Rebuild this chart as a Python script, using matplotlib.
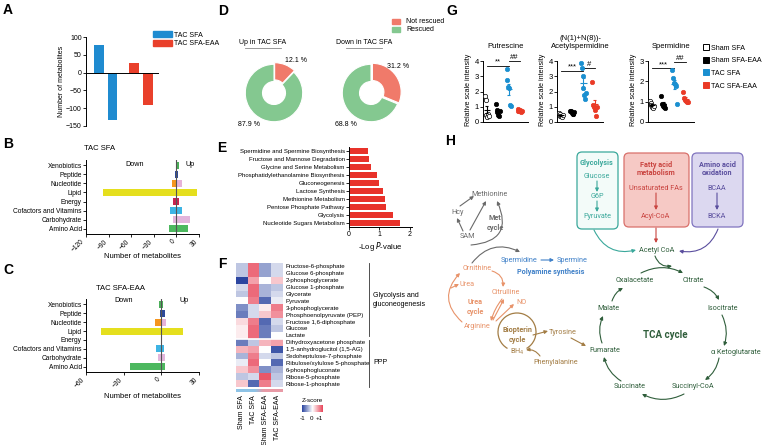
import numpy as np
import matplotlib.pyplot as plt
from matplotlib.patches import FancyBboxPatch, Rectangle, Arc
from matplotlib.lines import Line2D
from matplotlib.colors import LinearSegmentedColormap

plt.rcParams['font.family'] = ['Liberation Sans', 'DejaVu Sans']

# ---------------- data ----------------
a_groups = ['TAC SFA', 'TAC SFA-EAA']
a_up = [78, 28]
a_down = [-132, -90]

classes = ['Xenobiotics', 'Peptide', 'Nucleotide', 'Lipid', 'Energy',
           'Cofactors and Vitamins', 'Carbohydrate', 'Amino Acid']
b_down = [-1, -2, -6, -97, -4, -8, -5, -10]
b_up = [3, 2, 7, 27, 4, 7, 18, 16]
c_down = [-1.5, -1, -5, -48, 0, -4, -3, -25]
c_up = [1, 3, 4, 17, 0, 2, 3, 3]

d_titles = ['Up in TAC SFA', 'Down in TAC SFA']
d_not_rescued = [12.1, 31.2]
d_rescued = [87.9, 68.8]

e_pathways = ['Spermidine and Spermine Biosynthesis', 'Fructose and Mannose Degradation',
              'Glycine and Serine Metabolism', 'Phosphatidylethanolamine Biosynthesis',
              'Gluconeogenesis', 'Lactose Synthesis', 'Methionine Metabolism',
              'Pentose Phosphate Pathway', 'Glycolysis', 'Nucleotide Sugars Metabolism']
e_logp = [0.62, 0.64, 0.72, 0.92, 0.98, 1.1, 1.17, 1.22, 1.43, 1.67]

f_metabolites = ['Fructose-6-phosphate', 'Glucose 6-phosphate', '2-phosphoglycerate',
                 'Glucose 1-phosphate', 'Glycerate', 'Pyruvate', '3-phosphoglycerate',
                 'Phosphoenolpyruvate (PEP)', 'Fructose 1,6-diphosphate', 'Glucose', 'Lactate',
                 'Dihydroxyacetone phosphate', '1,5-anhydroglucitol (1,5-AG)',
                 'Sedoheptulose-7-phosphate', 'Ribulose/xylulose 5-phosphate',
                 '6-phosphogluconate', 'Ribose-5-phosphate', 'Ribose-1-phosphate']
f_groups = ['Sham SFA', 'TAC SFA', 'Sham SFA-EAA', 'TAC SFA-EAA']
f_z = [[-0.3, 0.8, -0.5, -0.2],
       [-0.3, 0.8, -0.5, -0.2],
       [-1.0, 0.5, 0.0, 0.3],
       [-0.2, 0.8, -0.4, -0.3],
       [-0.3, 0.8, -0.4, -0.2],
       [0.0, 0.7, -0.8, -0.1],
       [-0.6, -0.2, 0.1, 0.7],
       [-0.7, -0.2, 0.3, 0.6],
       [0.2, 0.7, -0.8, -0.2],
       [0.1, 0.8, -0.7, -0.3],
       [0.1, 0.8, -0.7, 0.0],
       [-0.7, -0.3, 0.4, 0.5],
       [0.4, 0.5, 0.0, -0.9],
       [-0.4, 0.7, -0.2, -0.3],
       [-0.1, 0.8, 0.0, -0.8],
       [0.3, 0.6, -0.6, -0.4],
       [-0.3, -0.2, 0.9, -0.3],
       [0.3, -0.8, 0.7, -0.2]]

g_groups = ['Sham SFA', 'Sham SFA-EAA', 'TAC SFA', 'TAC SFA-EAA']
putrescine = [[1.7, 1.45, 0.45, 0.35, 0.5, 0.4],
              [1.15, 0.8, 0.65, 0.45, 0.4, 0.75],
              [3.45, 2.75, 2.3, 2.2, 1.1, 1.05],
              [0.85, 0.75, 0.7, 0.8, 0.65, 0.75]]
acetylspermidine = [[0.6, 0.5, 0.4, 0.4, 0.35, 0.45],
                    [0.75, 0.7, 0.6, 0.55, 0.5, 0.65],
                    [3.85, 3.55, 3.0, 2.2, 1.75, 1.5, 1.9],
                    [2.65, 1.1, 1.0, 0.8, 0.4, 1.0]]
spermidine = [[1.05, 0.95, 0.85, 0.75, 0.7, 0.8],
              [1.3, 0.9, 0.8, 0.75, 0.85, 0.7],
              [2.55, 2.15, 1.9, 1.85, 1.75, 0.9],
              [1.5, 1.2, 1.1, 1.05, 1.0, 1.0]]

# ---------------- figure ----------------
W, H = 763, 445
fig = plt.figure(figsize=(W / 100, H / 100), dpi=100)


def px_axes(x0, y0, x1, y1):
    return fig.add_axes([x0 / W, 1 - y1 / H, (x1 - x0) / W, (y1 - y0) / H])


def clean(ax):
    ax.spines['top'].set_visible(False)
    ax.spines['right'].set_visible(False)
    for s in ['left', 'bottom']:
        ax.spines[s].set_linewidth(0.7)
    ax.tick_params(width=0.6, length=2, pad=1, labelsize=5)


# A
ax = px_axes(86, 37, 158, 126)
blue, red = '#1f8bd0', '#e9402b'
ax.bar([0, 1, 2.6, 3.6], [a_up[0], a_down[0], a_up[1], a_down[1]],
       width=0.72, color=[blue, blue, red, red])
ax.set_xlim(-0.95, 4.35)
ax.set_ylim(-150, 100)
ax.set_yticks(range(-150, 101, 50))
ax.set_xticks([])
ax.spines['bottom'].set_position(('data', 0))
clean(ax)
ax.set_ylabel('Number of metabolites', fontsize=5, labelpad=1)
ax.legend([Rectangle((0, 0), 1, 1, color=blue), Rectangle((0, 0), 1, 1, color=red)], a_groups,
          fontsize=5, frameon=False, handlelength=2.6, handleheight=0.9, labelspacing=0.15,
          handletextpad=0.4, loc='upper left', bbox_to_anchor=(150 / W, 1 - 28 / H),
          bbox_transform=fig.transFigure, borderpad=0)

# B and C
col_down = ['#4caf5a', '#2d4a9a', '#f5961f', '#e5df1e', '#c8234e', '#3db4e4', '#e3b5dc', '#4db85f']
col_up = ['#4caf5a', '#2d4a9a', '#e6b3d9', '#e5df1e', '#c8234e', '#3db4e4', '#e3b5dc', '#4db85f']


def class_panel(y0, y1, down, up, lim, ticks):
    ax = px_axes(86, y0, 199, y1)
    ax.barh(range(8), down, height=0.78, color=col_down)
    ax.barh(range(8), up, height=0.78, color=col_up)
    ax.axvline(0, color='#555555', lw=0.8)
    ax.set_ylim(7.6, -0.6)
    ax.set_xlim(*lim)
    ax.set_xticks(ticks)
    ax.set_yticks(range(8))
    ax.set_yticklabels(classes)
    clean(ax)
    ax.tick_params(labelsize=4.8)
    for lab in ax.get_xticklabels():
        lab.set_rotation(45)
        lab.set_ha('right')
    return ax


class_panel(160, 234, b_down, b_up, (-120, 30), range(-120, 31, 30))
class_panel(299, 372, c_down, c_up, (-60, 30), range(-60, 31, 30))

# D
for i in range(2):
    cx = [274, 371][i]
    ax = px_axes(cx - 31, 62, cx + 31, 124)
    ax.pie([d_not_rescued[i], d_rescued[i]], colors=['#f07a6a', '#84c890'], startangle=90,
           counterclock=False, explode=[0.06, 0],
           wedgeprops=dict(width=0.6, edgecolor='white', linewidth=0.8))
    ax.set_xlim(-1.08, 1.08)
    ax.set_ylim(-1.08, 1.08)

# E
ax = px_axes(349, 147, 412, 227)
ax.barh(range(10), e_logp, height=0.72, color='#e8322a')
ax.set_ylim(9.5, -0.5)
ax.set_xlim(0, 2.066)
ax.set_xticks([0, 1, 2])
ax.set_yticks(range(10))
ax.set_yticklabels(e_pathways)
clean(ax)
ax.tick_params(axis='y', labelsize=4.3)
ax.set_xlabel('-Log $\\it{P}$-value', fontsize=5.5, labelpad=1)

# F
cmap = LinearSegmentedColormap.from_list('z', ['#2b45a0', '#ffffff', '#e8465a'])
ax = px_axes(236, 263, 283, 387)
ax.imshow(np.array(f_z), cmap=cmap, vmin=-1, vmax=1, aspect='auto', interpolation='nearest')
ax.axhline(10.5, color='white', lw=1.2)
ax.yaxis.tick_right()
ax.set_yticks(range(len(f_metabolites)))
ax.set_yticklabels(f_metabolites, fontsize=4.4)
ax.set_xticks([])
ax.tick_params(length=0, pad=2)
for s in ax.spines.values():
    s.set_visible(False)
ax = px_axes(236, 389, 283, 392)
ax.imshow([[0, 0, 1, 1]], cmap=LinearSegmentedColormap.from_list('g', ['#8ec3e6', '#e89aa6']),
          aspect='auto')
ax.axis('off')
cax = px_axes(302, 405, 323, 412)
cax.imshow(np.linspace(-1, 1, 100)[None, :], cmap=cmap, aspect='auto')
cax.axis('off')

# G
g_face = ['white', 'black', '#1a8fd0', '#ea3a26']
g_edge = ['black', 'black', '#1a8fd0', '#ea3a26']


def dot_plot(x0, x1, data, ymax, yt, title, sigs):
    ax = px_axes(x0, 58, x1, 122)
    for g, vals in enumerate(data):
        x = g + 1
        off = np.linspace(-0.2, 0.2, len(vals))
        ax.scatter(x + off, vals, s=10, facecolor=g_face[g], edgecolor=g_edge[g], lw=0.5, zorder=3)
        m = np.mean(vals)
        se = np.std(vals, ddof=1) / np.sqrt(len(vals))
        ax.hlines(m, x - 0.28, x + 0.28, color=g_edge[g], lw=0.8, zorder=4)
        ax.vlines(x, m - se, m + se, color=g_edge[g], lw=0.8, zorder=4)
        ax.hlines([m - se, m + se], x - 0.13, x + 0.13, color=g_edge[g], lw=0.8, zorder=4)
    for txt, a, b, y in sigs:
        ax.plot([a, b], [y, y], color='black', lw=0.6, clip_on=False)
        ax.text((a + b) / 2, y, txt, ha='center', va='bottom', fontsize=5.5)
    ax.set_xlim(0.65, 4.75)
    ax.set_ylim(0, ymax)
    ax.set_yticks(yt)
    ax.set_xticks([])
    clean(ax)
    ax.spines['left'].set_bounds(0, yt[-1])
    ax.tick_params(labelsize=5.5)
    ax.set_ylabel('Relative scale intensity', fontsize=5, labelpad=2)
    ax.set_title(title, fontsize=5.5, pad=7)
    return ax


dot_plot(483, 528, putrescine, 4.2, [0, 1, 2, 3, 4], 'Putrescine',
         [('**', 1, 3, 3.7), ('##', 3, 4, 4.0)])
dot_plot(557, 603, acetylspermidine, 4.2, [0, 1, 2, 3, 4], '(N(1)+N(8))-\nAcetylspermidine',
         [('***', 1, 3, 3.37), ('#', 3, 4, 3.55)])
ax = dot_plot(648, 694, spermidine, 3.15, [0, 1, 2, 3], 'Spermidine',
              [('***', 1, 3, 2.65), ('##', 3, 4, 2.95)])
ax.legend([Line2D([], [], ls='', marker='s', ms=5, mfc=g_face[k], mec=g_edge[k], mew=0.7)
           for k in range(4)], g_groups, fontsize=5.1, frameon=False, handlelength=0.8,
          handletextpad=0.3, labelspacing=0.8, loc='upper left', borderpad=0,
          bbox_to_anchor=(700 / W, 1 - 41 / H), bbox_transform=fig.transFigure)

# ---------------- overlay: letters, texts, diagram H ----------------
hx = fig.add_axes([0, 0, 1, 1])
hx.set_xlim(0, W)
hx.set_ylim(H, 0)
hx.axis('off')
hx.patch.set_alpha(0)

for letter, x, y in [('A', 3, 3), ('B', 3, 137), ('C', 3, 263), ('D', 218, 4), ('E', 217, 141),
                     ('F', 218, 257), ('G', 446, 4), ('H', 445, 134)]:
    hx.text(x, y, letter, fontsize=10, fontweight='bold', ha='left', va='top')

# B / C labels
hx.text(100, 149, 'TAC SFA', fontsize=5.5, ha='center', va='center')
hx.text(120, 289, 'TAC SFA-EAA', fontsize=5.5, ha='center', va='center')
for x, y, s in [(135, 164, 'Down'), (190, 164, 'Up'), (124, 301, 'Down'), (184, 301, 'Up')]:
    hx.text(x, y, s, fontsize=5.2, ha='center', va='center')
hx.text(142, 256, 'Number of metabolites', fontsize=5.5, ha='center', va='center')
hx.text(142, 396, 'Number of metabolites', fontsize=5.5, ha='center', va='center')

# D labels
for cx, ttl in zip([263, 364], d_titles):
    hx.text(cx, 42, ttl, fontsize=5, ha='center', va='center')
    hx.plot([cx - 18, cx + 18], [48, 48], color='#888888', lw=0.6)
for x, y, s in [(296, 60, '12.1 %'), (249, 124, '87.9 %'), (398, 66, '31.2 %'), (346, 124, '68.8 %')]:
    hx.text(x, y, f'{s}', fontsize=5, ha='center', va='center')
hx.add_patch(Rectangle((392, 19), 8, 5, color='#f07a6a'))
hx.add_patch(Rectangle((392, 27), 8, 5, color='#84c890'))
hx.text(406, 21.5, 'Not rescued', fontsize=5, va='center')
hx.text(406, 29.5, 'Rescued', fontsize=5, va='center')

# F labels
for k, g in enumerate(f_groups):
    hx.text(241.9 + k * 11.75, 395, g, rotation=90, fontsize=5, ha='center', va='top')
hx.plot([369, 369], [263, 336], color='#333333', lw=0.6)
hx.plot([369, 369], [340, 387], color='#333333', lw=0.6)
hx.text(373, 300, 'Glycolysis and\ngluconeogenesis', fontsize=5, va='center', linespacing=1.3)
hx.text(373, 363, 'PPP', fontsize=5, va='center')
hx.text(312, 401, 'Z-score', fontsize=4.5, ha='center', va='center')
for x, s in [(303, '-1'), (311, '0'), (319, '+1')]:
    hx.text(x, 418, s, fontsize=4.5, ha='center', va='center')

# H diagram
met, poly, urea, bio = '#6a6a6a', '#3f80c8', '#e8936a', '#a37d45'
teal, fat, amino, tca = '#3aa89b', '#c94440', '#5a4e9e', '#2f5e3b'
hfont = ['Roboto', 'DejaVu Sans']


def t(x, y, s, c, size=5.2, bold=False, **kw):
    hx.text(x, y, s, color=c, fontsize=size, fontweight='bold' if bold else 'normal',
            ha='center', va='center', family=hfont, **kw)


def arr(x0, y0, x1, y1, c, rad=0.0, lw=0.8):
    hx.annotate('', xy=(x1, y1), xytext=(x0, y0),
                arrowprops=dict(arrowstyle='-|>', mutation_scale=5, color=c, lw=lw,
                                shrinkA=0, shrinkB=0, connectionstyle=f'arc3,rad={rad}'))


t(489, 194, 'Methionine', met)
t(458, 212, 'Hcy', met)
t(467, 237, 'SAM', met)
t(495, 223, 'Met\ncycle', met, bold=True, linespacing=1.2)
arr(463, 231, 457, 218, met)
arr(460, 206, 474, 196, met)
arr(470, 230, 486, 201, met)
arr(471, 245, 497, 201, met, rad=0.7)
arr(472, 263, 520, 252, met, rad=-0.4)
t(519, 260, 'Spermidine', poly)
arr(541, 260, 554, 260, poly)
t(572, 260, 'Spermine', poly)
t(551, 272, 'Polyamine synthesis', poly, bold=True)

t(477, 269, 'Ornithine', urea)
t(467, 284, 'Urea', urea)
t(506, 293, 'Citrulline', urea)
t(521, 303, 'NO', urea)
t(475, 307, 'Urea\ncycle', urea, bold=True, linespacing=1.2)
t(477, 326, 'Arginine', urea)
arr(462, 322, 460, 273, urea, rad=-0.5)
arr(451, 288, 459, 284, urea)
arr(492, 271, 503, 287, urea, rad=-0.4)
arr(502, 299, 491, 321, urea, rad=0.1)
arr(493, 320, 504, 299, urea)
arr(496, 321, 514, 304, urea)

hx.add_patch(Arc((517, 332), 38, 38, theta1=120, theta2=420, color=bio, lw=0.9))
t(517, 335, 'Biopterin\ncycle', bio, bold=True, linespacing=1.2)
t(517, 352, 'BH$_4$', bio)
t(563, 332, 'Tyrosine', bio)
t(556, 362, 'Phenylalanine', bio)
arr(533, 335, 548, 331, bio)
arr(540, 356, 526, 350, bio, rad=0.3)
arr(571, 338, 586, 346, bio)

hx.add_patch(FancyBboxPatch((577, 152), 41, 77, boxstyle='round,pad=0,rounding_size=5',
                            fc='#f3fbf9', ec=teal, lw=0.9))
hx.add_patch(FancyBboxPatch((624, 153), 65, 74, boxstyle='round,pad=0,rounding_size=5',
                            fc='#f6c9c5', ec='#d9706b', lw=0.9))
hx.add_patch(FancyBboxPatch((692, 153), 51, 74, boxstyle='round,pad=0,rounding_size=5',
                            fc='#dcd8f0', ec='#8074bf', lw=0.9))
t(597, 163, 'Glycolysis', teal, bold=True)
t(597, 177, 'Glucose', teal)
arr(597, 181, 597, 192, teal)
t(597, 197, 'G6P', teal)
arr(597, 201, 597, 212, teal)
t(597, 217, 'Pyruvate', teal)
t(656, 169, 'Fatty acid\nmetabolism', fat, bold=True, linespacing=1.1)
t(656, 188, 'Unsaturated FAs', fat)
arr(656, 193, 656, 210, fat)
t(656, 217, 'Acyl-CoA', fat)
t(717, 169, 'Amino acid\noxidation', amino, bold=True, linespacing=1.1)
t(717, 188, 'BCAA', amino)
arr(717, 193, 717, 210, amino)
t(717, 217, 'BCKA', amino)

t(657, 250, 'Acetyl CoA', tca)
arr(594, 230, 636, 250, teal, rad=0.4)
arr(656, 228, 656, 243, fat)
arr(718, 229, 679, 251, amino, rad=-0.4)
arr(655, 256, 672, 266, tca, rad=0.4)

t(635, 280, 'Oxalacetate', tca)
t(693, 280, 'Citrate', tca)
t(723, 308, 'Isocitrate', tca)
t(736, 352, '\u03b1 Ketoglutarate', tca)
t(693, 387, 'Succinyl-CoA', tca)
t(630, 387, 'Succinate', tca)
t(605, 350, 'Fumarate', tca)
t(608, 309, 'Malate', tca)
t(665, 335, 'TCA cycle', tca, size=7, bold=True)
arr(641, 273, 683, 273, tca, rad=-0.25)
arr(704, 287, 719, 300, tca, rad=-0.2)
arr(722, 315, 724, 346, tca, rad=-0.2)
arr(719, 358, 705, 380, tca, rad=-0.2)
arr(684, 394, 642, 394, tca, rad=-0.25)
arr(621, 381, 604, 357, tca, rad=-0.2)
arr(602, 343, 603, 316, tca, rad=-0.2)
arr(612, 301, 623, 288, tca, rad=-0.2)

fig.savefig('out.png', dpi=100)
